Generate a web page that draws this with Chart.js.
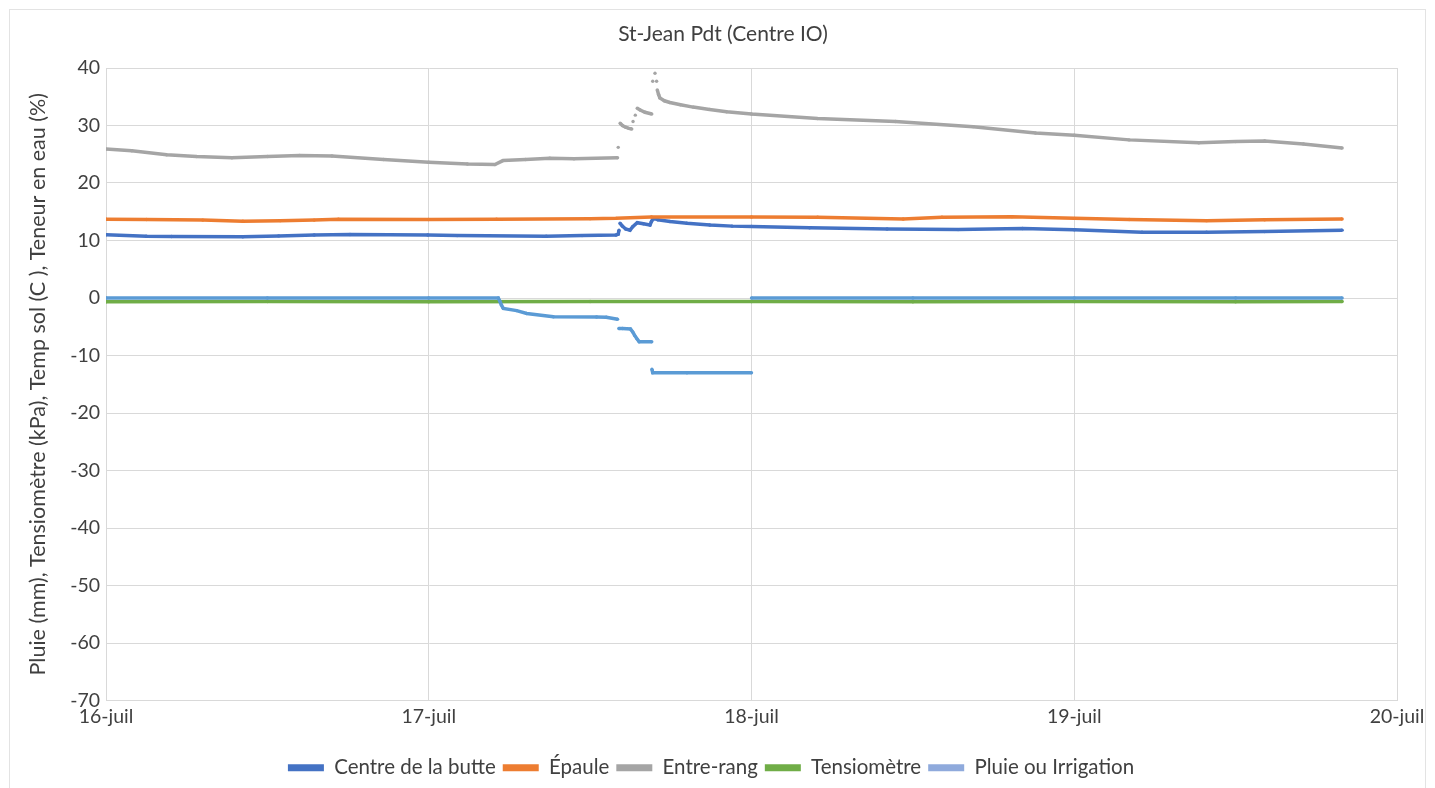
<!DOCTYPE html>
<html lang="fr">
<head>
<meta charset="utf-8">
<script src="https://cdn.jsdelivr.net/npm/chart.js@4/dist/chart.umd.min.js"></script>
<style>
  html, body { margin: 0; padding: 0; background: #ffffff; }
  #wrap { width: 1435px; height: 788px; }
</style>
</head>
<body>
<div id="wrap"><canvas id="c" width="1435" height="788"></canvas></div>
<script>
// Chart title
const chartTitle = 'St-Jean Pdt (Centre IO)';

// Day ticks (x = days since 16 July, 00:00)
const dayLabels = ['16-juil', '17-juil', '18-juil', '19-juil', '20-juil'];

// Centre de la butte (soil temperature, °C)
const centreX = [0, 0.125, 0.203, 0.424, 0.535, 0.645, 0.756, 0.997, 1.088, 1.364, 1.475, 1.580, 1.587, 1.5895, 1.5925, 1.600, 1.610, 1.6235, 1.632, 1.646, 1.665, 1.6855, 1.690, 1.696, 1.710, 1.7475, 1.800, 1.871, 1.940, 2.0, 2.18, 2.42, 2.64, 2.84, 3.0, 3.21, 3.41, 3.59, 3.83];
const centreY = [11.0, 10.75, 10.7, 10.65, 10.8, 10.95, 11.05, 10.95, 10.85, 10.75, 10.85, 10.95, 11.1, 11.8, 13.0, 12.5, 12.0, 11.8, 12.4, 13.1, 12.9, 12.7, 13.3, 13.9, 13.6, 13.3, 13.0, 12.7, 12.5, 12.45, 12.2, 12.0, 11.9, 12.1, 11.85, 11.45, 11.45, 11.55, 11.8];

// Épaule (soil temperature, °C)
const epauleX = [0, 0.125, 0.3, 0.424, 0.54, 0.645, 0.72, 1.0, 1.21, 1.5, 1.58, 1.69, 2.0, 2.205, 2.47, 2.59, 2.807, 3.0, 3.17, 3.41, 3.59, 3.83];
const epauleY = [13.7, 13.65, 13.55, 13.35, 13.45, 13.55, 13.7, 13.65, 13.7, 13.8, 13.85, 14.1, 14.1, 14.05, 13.75, 14.05, 14.15, 13.85, 13.65, 13.45, 13.6, 13.75];

// Entre-rang (water content, %)
const entreRangX = [0, 0.08, 0.188, 0.28, 0.39, 0.5, 0.6, 0.7, 0.86, 1.0, 1.12, 1.205, 1.23, 1.3, 1.375, 1.45, 1.585, 1.587, 1.593, 1.600, 1.610, 1.620, 1.629, 1.633, 1.640, 1.646, 1.655, 1.670, 1.691, 1.694, 1.701, 1.706, 1.708, 1.712, 1.716, 1.73, 1.747, 1.78, 1.819, 1.87, 1.923, 2.0, 2.205, 2.446, 2.687, 2.88, 3.0, 3.17, 3.386, 3.5, 3.59, 3.71, 3.83];
const entreRangY = [25.9, 25.6, 24.9, 24.6, 24.4, 24.6, 24.8, 24.7, 24.1, 23.6, 23.3, 23.2, 23.9, 24.1, 24.3, 24.2, 24.4, 26.2, 30.4, 30.0, 29.7, 29.5, 29.4, 30.7, 31.8, 33.0, 32.7, 32.3, 32.0, 37.7, 39.1, 37.7, 36.2, 35.4, 34.8, 34.3, 34.0, 33.6, 33.2, 32.8, 32.4, 32.0, 31.2, 30.7, 29.8, 28.7, 28.3, 27.5, 27.0, 27.2, 27.3, 26.8, 26.1];

// Tensiomètre (kPa)
const tensioX = [0, 0.5, 1.0, 1.5, 2.0, 2.5, 3.0, 3.5, 3.83];
const tensioY = [-0.65, -0.6, -0.65, -0.6, -0.6, -0.65, -0.6, -0.65, -0.6];

// Pluie ou Irrigation (mm)
const pluieX = [0, 0.5, 1.0, 1.2155, 1.220, 1.225, 1.231, 1.2725, 1.3035, 1.386, 1.52, 1.55, 1.585, 1.589, 1.600, 1.625, 1.632, 1.638, 1.645, 1.652, 1.691, 1.6915, 1.694, 1.8, 2.0, 2.0, 2.5, 3.0, 3.5, 3.83];
const pluieY = [0, 0, 0, 0, -0.5, -1.2, -1.8, -2.2, -2.7, -3.25, -3.3, -3.35, -3.7, -5.3, -5.3, -5.4, -5.9, -6.5, -7.1, -7.6, -7.6, -12.4, -13.0, -13.0, -13.0, 0, 0, 0, 0, 0];

const pairs = (xs, ys) => xs.map((x, i) => ({ x: x, y: ys[i] }));

const FONT = 'Lato, "Open Sans", "Liberation Sans", sans-serif';
const TEXT = '#404040';
const GRID = '#d9d9d9';

// Abrupt jumps between consecutive readings are shown as isolated markers, not joined
const jumpSegment = {
  borderColor: ctx => {
    const dy = Math.abs(ctx.p1.y - ctx.p0.y);
    const dx = Math.abs(ctx.p1.x - ctx.p0.x);
    return (dy > 6 && dy > dx) ? 'rgba(0,0,0,0)' : undefined;
  }
};

function series(label, xs, ys, color, order) {
  return {
    label: label,
    data: pairs(xs, ys),
    borderColor: color,
    backgroundColor: color,
    borderWidth: 3.5,
    pointRadius: 1.7,
    pointBorderWidth: 0,
    pointHoverRadius: 1.7,
    tension: 0,
    showLine: true,
    order: order,
    segment: jumpSegment
  };
}

const legendSwatch = ['#4472c4', '#ed7d31', '#a5a5a5', '#70ad47', '#8faadc'];

// White background, light outer frame and the title text
const frame = {
  id: 'frame',
  beforeDraw(chart) {
    const c = chart.ctx;
    c.save();
    c.fillStyle = '#ffffff';
    c.fillRect(0, 0, chart.width, chart.height);
    c.strokeStyle = '#e3e3e3';
    c.lineWidth = 1;
    c.strokeRect(9.5, 9.5, 1416, 800);
    c.fillStyle = TEXT;
    c.font = '21px ' + FONT;
    c.textAlign = 'center';
    c.textBaseline = 'middle';
    c.fillText(chartTitle, 723, 34);
    c.restore();
  }
};

new Chart(document.getElementById('c'), {
  type: 'scatter',
  data: {
    datasets: [
      series('Centre de la butte', centreX, centreY, '#4472c4', 4),
      series('Épaule', epauleX, epauleY, '#ed7d31', 3),
      series('Entre-rang', entreRangX, entreRangY, '#a5a5a5', 2),
      series('Tensiomètre', tensioX, tensioY, '#70ad47', 1),
      series('Pluie ou Irrigation', pluieX, pluieY, '#5b9bd5', 0)
    ]
  },
  options: {
    responsive: false,
    animation: false,
    events: [],
    layout: { padding: { left: 25, right: 38, top: 68, bottom: 0 } },
    scales: {
      x: {
        type: 'linear',
        min: 0,
        max: 4,
        afterFit(s) { s.height = 50; },
        afterBuildTicks(s) { s.ticks = dayLabels.map((_, i) => ({ value: i })); },
        ticks: {
          callback: v => dayLabels[v] ?? '',
          font: { family: FONT, size: 19.5 },
          color: TEXT,
          padding: 5,
          maxRotation: 0
        },
        grid: { color: GRID, drawTicks: false },
        border: { color: GRID }
      },
      y: {
        min: -70,
        max: 40,
        afterFit(s) { s.width = 81; },
        ticks: {
          stepSize: 10,
          font: { family: FONT, size: 19.5 },
          color: TEXT,
          padding: 6
        },
        grid: { color: GRID, drawTicks: false },
        border: { color: GRID },
        title: {
          display: true,
          text: 'Pluie (mm), Tensiomètre (kPa), Temp sol (C ), Teneur en eau (%)',
          font: { family: FONT, size: 21.5 },
          color: TEXT,
          padding: 0
        }
      }
    },
    plugins: {
      title: { display: false },
      legend: {
        position: 'bottom',
        labels: {
          font: { family: FONT, size: 20.5 },
          color: TEXT,
          boxWidth: 36,
          boxHeight: 7,
          padding: 7,
          generateLabels(chart) {
            return chart.data.datasets.map((ds, i) => ({
              text: ds.label,
              fillStyle: legendSwatch[i],
              strokeStyle: legendSwatch[i],
              lineWidth: 0,
              hidden: false,
              datasetIndex: i,
              fontColor: TEXT
            }));
          }
        }
      },
      tooltip: { enabled: false }
    }
  },
  plugins: [frame]
});
</script>
</body>
</html>
